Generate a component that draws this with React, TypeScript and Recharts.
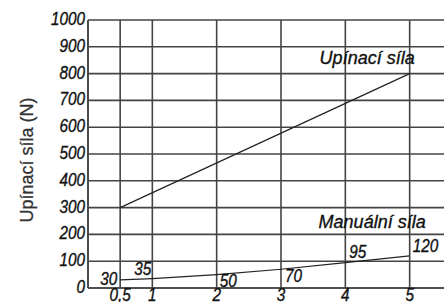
import React from "react";
import { LineChart, Line, XAxis, YAxis, CartesianGrid, LabelList } from "recharts";

const xValues = [0.5, 1, 2, 3, 4, 5];
const xTickLabels = ["0,5", "1", "2", "3", "4", "5"];
const manualForce = [30, 35, 50, 70, 95, 120];
const clampingForce: (number | null)[] = [300, null, null, null, null, 800];
const yTicks = [0, 100, 200, 300, 400, 500, 600, 700, 800, 900, 1000];
const clampingName = "Upínací síla";
const manualName = "Manuální síla";
const yAxisTitle = "Upínací síla (N)";

const data = xValues.map((x, i) => ({
  x,
  manual: manualForce[i],
  clamping: clampingForce[i],
}));

const SANS = "'Liberation Sans', Arial, sans-serif";
const INK = "#111";

// label offsets for the manual-force values [dx, dy, anchor]
const manualLabelOffsets: [number, number, "start" | "end"][] = [
  [-3, 5, "end"],
  [-1, -4, "end"],
  [3, 12, "start"],
  [4, 13, "start"],
  [4, -5, "start"],
  [3, -4, "start"],
];

const CondText = (props: any) => {
  const { x, y, scale = 0.85, anchor = "start", size = 18, italic = true, color = INK, children } = props;
  return (
    <text
      transform={`translate(${x},${y}) scale(${scale},1)`}
      x={0}
      y={0}
      textAnchor={anchor}
      fontFamily={SANS}
      fontStyle={italic ? "italic" : "normal"}
      fontSize={size}
      fill={color}
      stroke={color}
      strokeWidth={0.35}
    >
      {children}
    </text>
  );
};

const renderYTick = (props: any) => {
  const { x, y, payload } = props;
  return (
    <CondText key={`y-${payload.value}`} x={x} y={y + 5} anchor="end" scale={0.85} size={18}>
      {payload.value}
    </CondText>
  );
};

const renderXTick = (props: any) => {
  const { x, y, payload } = props;
  const idx = xValues.indexOf(Number(payload.value));
  return (
    <CondText key={`x-${payload.value}`} x={x} y={y + 11} anchor="middle" scale={0.85} size={18}>
      {idx >= 0 ? xTickLabels[idx] : payload.value}
    </CondText>
  );
};

const ManualValueLabel = (props: any) => {
  const { x, y, index, value } = props;
  const [dx, dy, anchor] = manualLabelOffsets[index] || [0, 0, "start"];
  return (
    <g>
      <CondText x={x + dx} y={y + dy} anchor={anchor} scale={0.85} size={18}>
        {value}
      </CondText>
      {index === xValues.length - 1 ? (
        <CondText x={x + 16} y={y - 28} anchor="end" scale={1} size={18}>
          {manualName}
        </CondText>
      ) : null}
    </g>
  );
};

const ClampingNameLabel = (props: any) => {
  const { x, y, index } = props;
  if (index !== xValues.length - 1 || x == null) return null;
  return (
    <CondText x={x + 5} y={y - 10} anchor="end" scale={1} size={18}>
      {clampingName}
    </CondText>
  );
};

export default function App() {
  return (
    <div style={{ position: "absolute", left: 0, top: 0, width: 444, height: 302, overflow: "hidden", background: "#fff" }}>
      <LineChart width={480} height={320} data={data} margin={{ top: 20, right: 6, bottom: 2, left: 0 }}>
        <CartesianGrid stroke="#444" strokeWidth={1.6} vertical={true} horizontal={true} />
        <XAxis
          dataKey="x"
          type="number"
          domain={[0, 6]}
          ticks={xValues}
          interval={0}
          height={30}
          tickLine={false}
          tickSize={0}
          tickMargin={2}
          axisLine={{ stroke: "#444", strokeWidth: 1.6 }}
          tick={renderXTick}
        />
        <YAxis
          type="number"
          domain={[0, 1000]}
          ticks={yTicks}
          interval={0}
          width={88}
          tickLine={false}
          tickSize={0}
          tickMargin={3}
          axisLine={{ stroke: "#444", strokeWidth: 1.6 }}
          tick={renderYTick}
          label={{
            value: yAxisTitle,
            angle: -90,
            position: "insideLeft",
            offset: 0,
            style: { fontFamily: SANS, fontSize: 18, fill: "#333", stroke: "#333", strokeWidth: 0.3, textAnchor: "middle" },
            dx: 27,
            dy: 6,
          }}
        />
        <Line
          dataKey="clamping"
          stroke="#222"
          strokeWidth={1.2}
          dot={false}
          connectNulls
          isAnimationActive={false}
        >
          <LabelList dataKey="clamping" content={<ClampingNameLabel />} />
        </Line>
        <Line dataKey="manual" stroke="#222" strokeWidth={1.2} dot={false} isAnimationActive={false}>
          <LabelList dataKey="manual" content={<ManualValueLabel />} />
        </Line>
      </LineChart>
    </div>
  );
}
